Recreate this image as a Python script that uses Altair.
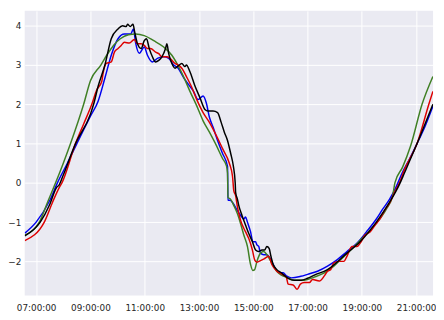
import altair as alt
import pandas as pd

# ---- data ----
blue_t = ["06:35", "07:00", "07:30", "07:47", "08:09", "08:30", "09:00", "09:17", "09:32", "09:46",
          "10:01", "10:15", "10:29", "10:35", "10:40", "10:48", "10:59", "11:06", "11:17", "11:28",
          "11:42", "11:53", "12:04", "12:14", "12:26", "12:37", "12:47", "12:58", "13:09", "13:16",
          "13:23", "13:31", "13:41", "13:52", "14:03", "14:04", "14:10", "14:14", "14:25", "14:32",
          "14:39", "14:43", "14:47", "14:54", "14:59", "15:05", "15:08", "15:12", "15:16", "15:23",
          "15:30", "15:37", "15:48", "15:59", "16:06", "16:13", "16:24", "16:45", "17:00", "17:22",
          "17:44", "18:05", "18:27", "18:49", "19:10", "19:32", "19:46", "20:01", "20:15", "20:29",
          "20:45", "21:02", "21:20", "21:37"]
blue_v = [-1.28, -1.0, -0.45, 0.0, 0.5, 1.0, 1.7, 2.08, 2.67, 3.25,
          3.67, 3.79, 3.79, 3.92, 3.56, 3.30, 3.46, 3.25, 3.08, 3.17,
          3.21, 3.17, 3.0, 2.92, 2.68, 2.5, 2.35, 2.12, 2.21, 2.04,
          1.67, 1.42, 1.08, 0.75, 0.42, -0.44, -0.45, -0.5, -0.71, -0.83,
          -0.92, -0.87, -1.0, -1.25, -1.5, -1.5, -1.58, -1.62, -1.79, -1.83,
          -1.83, -1.92, -2.17, -2.29, -2.29, -2.37, -2.42, -2.38, -2.33, -2.25,
          -2.12, -1.96, -1.75, -1.54, -1.25, -0.92, -0.67, -0.42, -0.12, 0.25,
          0.6, 1.0, 1.45, 1.95]

black_t = ["06:35", "07:09", "07:30", "07:45", "07:51", "08:00", "08:27", "09:00", "09:07", "09:17",
           "09:32", "09:46", "10:01", "10:11", "10:19", "10:22", "10:28", "10:34", "10:38", "10:44",
           "10:52", "10:59", "11:04", "11:10", "11:17", "11:24", "11:31", "11:38", "11:46", "11:49",
           "11:53", "12:00", "12:07", "12:14", "12:22", "12:29", "12:32", "12:40", "12:50", "13:02",
           "13:13", "13:20", "13:31", "13:41", "13:49", "13:56", "14:03", "14:10", "14:16", "14:20",
           "14:21", "14:25", "14:28", "14:35", "14:43", "14:50", "14:58", "15:05", "15:12", "15:19",
           "15:25", "15:30", "15:35", "15:39", "15:44", "15:52", "16:02", "16:10", "16:17", "16:31",
           "16:46", "17:00", "17:15", "17:44", "18:27", "18:56", "19:32", "20:01", "20:23", "20:34",
           "21:02", "21:37"]
black_v = [-1.35, -1.0, -0.55, -0.12, -0.05, 0.2, 1.0, 1.75, 2.0, 2.46,
           3.0, 3.67, 3.92, 4.0, 3.98, 4.04, 3.98, 4.04, 3.83, 3.54,
           3.42, 3.62, 3.67, 3.42, 3.21, 3.08, 3.12, 3.21, 3.42, 3.54,
           3.29, 3.04, 2.92, 2.98, 3.04, 2.96, 3.0, 2.83, 2.5, 2.17,
           1.87, 1.83, 1.83, 1.79, 1.54, 1.29, 1.08, 0.75, 0.42, 0.0,
           -0.25, -0.42, -0.58, -0.83, -1.08, -1.29, -1.5, -1.71, -1.75, -1.71,
           -1.71, -1.62, -1.67, -1.87, -2.08, -2.21, -2.29, -2.37, -2.43, -2.48,
           -2.48, -2.43, -2.35, -2.21, -1.79, -1.5, -1.0, -0.5, -0.04, 0.25,
           1.0, 2.0]

green_t = ["06:35", "07:07", "07:25", "07:43", "08:00", "08:16", "08:45", "09:00", "09:23", "09:36",
           "09:51", "10:06", "10:24", "10:40", "10:59", "11:20", "11:42", "12:00", "12:14", "12:26",
           "12:40", "12:55", "13:09", "13:23", "13:38", "13:52", "14:01", "14:03", "14:04", "14:10",
           "14:17", "14:25", "14:32", "14:39", "14:47", "14:54", "14:59", "15:03", "15:08", "15:16",
           "15:23", "15:30", "15:41", "15:52", "16:02", "16:17", "16:31", "16:53", "17:15", "17:36",
           "17:58", "18:20", "18:40", "19:00", "19:25", "19:54", "20:08", "20:13", "20:30", "20:48",
           "21:13", "21:37"]
green_v = [-1.33, -1.0, -0.5, 0.0, 0.5, 1.0, 2.0, 2.6, 3.0, 3.25,
           3.5, 3.67, 3.77, 3.79, 3.75, 3.62, 3.46, 3.25, 2.98, 2.7,
           2.33, 1.96, 1.58, 1.29, 0.96, 0.62, 0.42, 0.25, -0.37, -0.42,
           -0.58, -0.79, -1.04, -1.33, -1.62, -2.08, -2.23, -2.21, -2.0, -1.79,
           -1.75, -1.83, -2.04, -2.25, -2.35, -2.42, -2.48, -2.48, -2.40, -2.30,
           -2.12, -1.88, -1.66, -1.42, -1.12, -0.67, -0.33, 0.0, 0.4, 0.95,
           2.0, 2.71]

red_t = ["06:35", "07:18", "07:36", "07:51", "07:57", "08:27", "08:45", "09:03", "09:14", "09:25",
         "09:28", "09:35", "09:46", "09:53", "10:01", "10:08", "10:15", "10:26", "10:37", "10:44",
         "10:52", "10:59", "11:06", "11:13", "11:24", "11:31", "11:38", "11:49", "11:56", "12:07",
         "12:14", "12:22", "12:32", "12:43", "12:55", "13:09", "13:23", "13:38", "13:52", "14:07",
         "14:14", "14:17", "14:21", "14:25", "14:32", "14:43", "14:50", "14:58", "15:03", "15:08",
         "15:16", "15:26", "15:34", "15:41", "15:52", "16:02", "16:13", "16:17", "16:28", "16:37",
         "16:44", "16:53", "17:04", "17:11", "17:26", "17:37", "17:44", "17:51", "17:58", "18:09",
         "18:20", "18:27", "18:38", "18:49", "18:56", "19:07", "19:18", "19:29", "19:40", "19:50",
         "20:02", "20:12", "20:23", "20:34", "21:02", "21:28", "21:37"]
red_v = [-1.47, -1.0, -0.5, -0.12, 0.0, 1.0, 1.5, 2.0, 2.37, 2.58,
         2.79, 3.04, 3.08, 3.33, 3.42, 3.5, 3.58, 3.56, 3.65, 3.54,
         3.54, 3.5, 3.42, 3.42, 3.33, 3.29, 3.21, 3.21, 3.17, 3.04,
         3.0, 2.92, 2.71, 2.46, 2.12, 1.79, 1.54, 1.21, 0.87, 0.5,
         0.17, -0.21, -0.33, -0.62, -0.96, -1.25, -1.42, -1.71, -1.96, -2.02,
         -1.98, -1.92, -1.87, -2.08, -2.25, -2.32, -2.4, -2.58, -2.6, -2.71,
         -2.58, -2.54, -2.54, -2.46, -2.5, -2.37, -2.25, -2.21, -2.04, -2.0,
         -2.0, -1.87, -1.62, -1.62, -1.54, -1.33, -1.25, -1.08, -0.92, -0.71,
         -0.5, -0.25, 0.0, 0.33, 1.0, 2.0, 2.33]

series_names = ["blue", "green", "red", "black"]
series_colors = ["#0000ee", "#3f7f24", "#dd0000", "#000000"]
y_ticks = [-2, -1, 0, 1, 2, 3, 4]
x_tick_hours = [7, 9, 11, 13, 15, 17, 19, 21]

rows = []
for name, ts, vs in [("blue", blue_t, blue_v), ("green", green_t, green_v),
                     ("red", red_t, red_v), ("black", black_t, black_v)]:
    for t, v in zip(ts, vs):
        rows.append({"time": f"2020-01-01T{t}:00", "value": v, "series": name})
df = pd.DataFrame(rows)


def dt(h, m=0, s=0):
    return alt.DateTime(year=2020, month=1, date=1, hours=h, minutes=m, seconds=s)


chart = alt.Chart(df).mark_line(strokeWidth=1.5, clip=True, interpolate="monotone").encode(
    x=alt.X("time:T",
            scale=alt.Scale(domain=[dt(6, 34, 40), dt(21, 37, 20)], nice=False),
            axis=alt.Axis(values=[dt(h) for h in x_tick_hours], format="%H:%M:%S",
                          title=None, labelPadding=8)),
    y=alt.Y("value:Q",
            scale=alt.Scale(domain=[-2.87, 4.38], nice=False, zero=False),
            axis=alt.Axis(values=y_ticks, title=None, labelPadding=4)),
    color=alt.Color("series:N", scale=alt.Scale(domain=series_names, range=series_colors),
                    legend=None),
).properties(
    width=416, height=290,
    autosize=alt.AutoSizeParams(type="none"),
    padding={"left": 17, "top": 0, "right": 3, "bottom": 22},
).configure_view(
    fill="#EAEAF2", stroke=None
).configure_axis(
    grid=True, gridColor="white", gridWidth=1, domain=False, ticks=False,
    labelFont="DejaVu Sans", labelFontSize=9, labelColor="#262626",
)

chart.save("out.html", embed_options={"renderer": "svg", "actions": False})
